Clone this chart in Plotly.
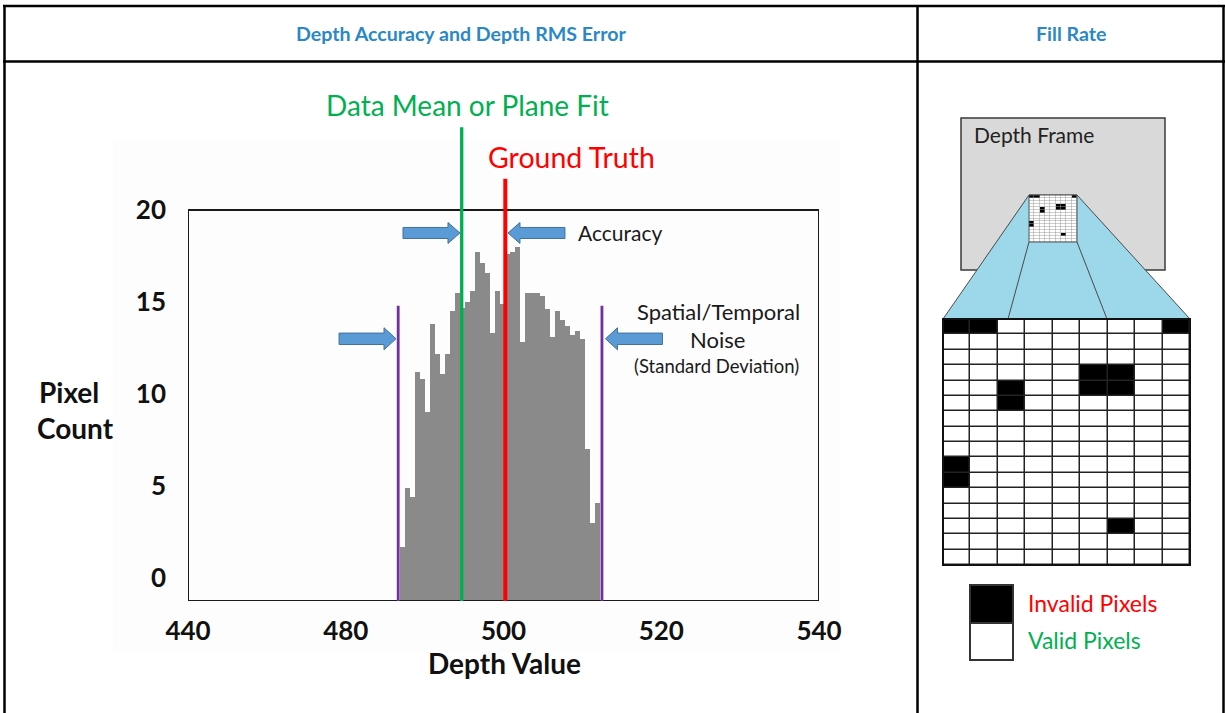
import plotly.graph_objects as go

W, H = 1225, 713
FONT = "Lato"

# ---------------- data ----------------
bin_centers = [487.20, 487.83, 488.47, 489.10, 489.74, 490.37, 491.00, 491.64, 492.27, 492.91,
               493.54, 494.17, 494.81, 495.44, 496.08, 496.71, 497.34, 497.98, 498.61, 499.25,
               499.88, 500.51, 501.15, 501.78, 502.42, 503.05, 503.68, 504.32, 504.95, 505.59,
               506.22, 506.85, 507.49, 508.12, 508.76, 509.39, 510.02, 510.66, 511.29, 511.93]
pixel_counts = [1.7, 4.9, 4.4, 11.2, 10.8, 9.0, 13.8, 12.2, 11.1, 12.2,
                14.5, 15.5, 14.7, 15.0, 15.6, 17.7, 17.1, 16.6, 13.3, 15.6,
                14.9, 17.6, 17.7, 18.0, 12.8, 15.5, 15.5, 15.5, 15.3, 14.6,
                13.1, 14.5, 14.0, 13.7, 13.2, 13.4, 13.0, 7.0, 3.0, 4.1]
bin_width = 0.634

x_tick_vals = [460, 480, 500, 520, 540]
x_tick_text = ["440", "480", "500", "520", "540"]
y_tick_vals = [0, 5, 10, 15, 20]

data_mean_x = 494.70      # green line
ground_truth_x = 500.23   # red line
noise_low_x = 486.65      # purple left
noise_high_x = 512.48     # purple right
data_mean_top = 24.5
ground_truth_top = 21.7
noise_top = 14.8
accuracy_arrow_y = 18.75
noise_arrow_y = 13.0

# fill-rate grid: 1 = invalid pixel (black), 0 = valid (white)
fill_grid = [
    [1, 1, 0, 0, 0, 0, 0, 0, 1],
    [0, 0, 0, 0, 0, 0, 0, 0, 0],
    [0, 0, 0, 0, 0, 0, 0, 0, 0],
    [0, 0, 0, 0, 0, 1, 1, 0, 0],
    [0, 0, 1, 0, 0, 1, 1, 0, 0],
    [0, 0, 1, 0, 0, 0, 0, 0, 0],
    [0, 0, 0, 0, 0, 0, 0, 0, 0],
    [0, 0, 0, 0, 0, 0, 0, 0, 0],
    [0, 0, 0, 0, 0, 0, 0, 0, 0],
    [1, 0, 0, 0, 0, 0, 0, 0, 0],
    [1, 0, 0, 0, 0, 0, 0, 0, 0],
    [0, 0, 0, 0, 0, 0, 0, 0, 0],
    [0, 0, 0, 0, 0, 0, 0, 0, 0],
    [0, 0, 0, 0, 0, 0, 1, 0, 0],
    [0, 0, 0, 0, 0, 0, 0, 0, 0],
    [0, 0, 0, 0, 0, 0, 0, 0, 0],
]

# ---------------- helpers ----------------
def PX(x):
    return x / W

def PY(y):
    return 1 - y / H

GREEN = "#00B050"
RED = "#FF0000"
PURPLE = "#7030A0"
BLUE_HDR = "#2A88C6"
ARROW_FILL = "#5B9BD5"
ARROW_LINE = "#41719C"

fig = go.Figure()

# histogram bars; plot bottom is at -1.25 (frame bottom)
y_bottom = -1.25
y_top = 26.52
fig.add_trace(go.Bar(
    x=bin_centers, y=[c - y_bottom for c in pixel_counts], base=y_bottom,
    width=bin_width, marker=dict(color="#8A8A8A", line=dict(width=0)),
    xaxis="x", yaxis="y", hoverinfo="skip", showlegend=False))

# fill-rate grid
fig.add_trace(go.Heatmap(
    z=fill_grid, colorscale=[[0, "white"], [1, "black"]], zmin=0, zmax=1,
    showscale=False, xgap=1.5, ygap=1.5, xaxis="x2", yaxis="y2", hoverinfo="skip"))
# miniature in the depth frame
fig.add_trace(go.Heatmap(
    z=fill_grid, colorscale=[[0, "white"], [1, "black"]], zmin=0, zmax=1,
    showscale=False, xgap=0.5, ygap=0.5, xaxis="x3", yaxis="y3", hoverinfo="skip"))

shapes = []

# faint background behind chart
shapes.append(dict(type="rect", xref="paper", yref="paper", x0=PX(113), x1=PX(840),
                   y0=PY(653), y1=PY(140), fillcolor="#FDFDFD", line=dict(width=0), layer="below"))

# table borders
tl = dict(color="black", width=2.5)
shapes += [
    dict(type="line", xref="paper", yref="paper", x0=PX(3), x1=PX(1225), y0=PY(6), y1=PY(6), line=tl),
    dict(type="line", xref="paper", yref="paper", x0=PX(3), x1=PX(1225), y0=PY(61.5), y1=PY(61.5), line=tl),
    dict(type="line", xref="paper", yref="paper", x0=PX(4.5), x1=PX(4.5), y0=PY(5), y1=PY(713), line=tl),
    dict(type="line", xref="paper", yref="paper", x0=PX(917.5), x1=PX(917.5), y0=PY(5), y1=PY(713), line=tl),
    dict(type="line", xref="paper", yref="paper", x0=PX(1223.5), x1=PX(1223.5), y0=PY(5), y1=PY(713), line=tl),
]

# chart frame
shapes.append(dict(type="rect", xref="x", yref="y", x0=460, x1=540, y0=y_bottom, y1=20,
                   line=dict(color="#1A1A1A", width=2), layer="above"))

# vertical lines
shapes.append(dict(type="line", xref="x", yref="y", x0=data_mean_x, x1=data_mean_x,
                   y0=y_bottom, y1=data_mean_top, line=dict(color=GREEN, width=3.3)))
shapes.append(dict(type="line", xref="x", yref="y", x0=ground_truth_x, x1=ground_truth_x,
                   y0=y_bottom, y1=ground_truth_top, line=dict(color=RED, width=4)))
for nx in (noise_low_x, noise_high_x):
    shapes.append(dict(type="line", xref="x", yref="y", x0=nx, x1=nx,
                       y0=y_bottom, y1=noise_top, line=dict(color=PURPLE, width=2.8)))

# block arrows (data units)
def arrow(tip_x, tip_y, d, length=7.22, head=1.52, body_half=0.30, head_half=0.57):
    pts = [(tip_x - d * length, tip_y - body_half), (tip_x - d * head, tip_y - body_half),
           (tip_x - d * head, tip_y - head_half), (tip_x, tip_y),
           (tip_x - d * head, tip_y + head_half), (tip_x - d * head, tip_y + body_half),
           (tip_x - d * length, tip_y + body_half)]
    path = "M " + " L ".join(f"{x:.3f},{y:.3f}" for x, y in pts) + " Z"
    return dict(type="path", xref="x", yref="y", path=path, fillcolor=ARROW_FILL,
                line=dict(color=ARROW_LINE, width=1))

shapes.append(arrow(data_mean_x - 0.22, accuracy_arrow_y, +1))
shapes.append(arrow(ground_truth_x + 0.34, accuracy_arrow_y, -1))
shapes.append(arrow(noise_low_x - 0.28, noise_arrow_y, +1, body_half=0.31, head_half=0.6))
shapes.append(arrow(noise_high_x + 0.45, noise_arrow_y, -1, body_half=0.31, head_half=0.6))

# depth frame
shapes.append(dict(type="rect", xref="paper", yref="paper", x0=PX(961), x1=PX(1165),
                   y0=PY(270), y1=PY(118), fillcolor="#D9D9D9",
                   line=dict(color="#3A3A3A", width=1.5), layer="below"))
# fan
fan = [(1029, 195), (1077, 195), (1190, 319), (943, 319)]
shapes.append(dict(type="path", xref="paper", yref="paper",
                   path="M " + " L ".join(f"{PX(x):.5f},{PY(y):.5f}" for x, y in fan) + " Z",
                   fillcolor="#9DD8EA", line=dict(color="#4A4A4A", width=1), layer="below"))
for (xa, ya, xb, yb) in [(1029, 242, 1008, 319), (1077, 242, 1107, 319)]:
    shapes.append(dict(type="line", xref="paper", yref="paper", x0=PX(xa), y0=PY(ya),
                       x1=PX(xb), y1=PY(yb), line=dict(color="#4A4A4A", width=1), layer="below"))
# grid backings and outlines
shapes.append(dict(type="rect", xref="x2 domain", yref="y2 domain", x0=0, x1=1, y0=0, y1=1,
                   fillcolor="#222222", line=dict(width=0), layer="below"))
shapes.append(dict(type="rect", xref="x2 domain", yref="y2 domain", x0=0, x1=1, y0=0, y1=1,
                   line=dict(color="#111111", width=2), layer="above"))
shapes.append(dict(type="rect", xref="x3 domain", yref="y3 domain", x0=0, x1=1, y0=0, y1=1,
                   fillcolor="#9A9A9A", line=dict(width=0), layer="below"))
shapes.append(dict(type="rect", xref="x3 domain", yref="y3 domain", x0=0, x1=1, y0=0, y1=1,
                   line=dict(color="#555555", width=1), layer="above"))

# legend boxes
shapes.append(dict(type="rect", xref="paper", yref="paper", x0=PX(970), x1=PX(1013),
                   y0=PY(623), y1=PY(585), fillcolor="black", line=dict(color="#333", width=2)))
shapes.append(dict(type="rect", xref="paper", yref="paper", x0=PX(970), x1=PX(1013),
                   y0=PY(660), y1=PY(623), fillcolor="white", line=dict(color="#333", width=2)))

# ---------------- annotations ----------------
def txt(text, x, y, size, color="#1A1A1A", bold=False, xanchor="center"):
    return dict(text=text, x=PX(x), y=PY(y), xref="paper", yref="paper", showarrow=False,
                xanchor=xanchor, yanchor="middle",
                font=dict(family=FONT, size=size, color=color, weight="bold" if bold else "normal"))

annotations = [
    txt("Depth Accuracy and Depth RMS Error", 461, 33, 19.6, BLUE_HDR, True),
    txt("Fill Rate", 1071, 33, 19.6, BLUE_HDR, True),
    txt("Data Mean or Plane Fit", 467, 105, 28, GREEN),
    txt("Ground Truth", 571, 157, 28.5, RED),
    txt("Accuracy", 576, 232, 21, xanchor="left"),
    txt("Spatial/Temporal", 718, 311, 22),
    txt("Noise", 717, 339, 22),
    txt("(Standard Deviation)", 716, 366, 18.5),
    txt("Pixel", 69, 392, 28, "#111", True),
    txt("Count", 75, 428, 28, "#111", True),
    txt("Depth Value", 504, 663, 28, "#111", True),
    txt("Depth Frame", 972, 135, 21, "#222", xanchor="left"),
    txt("Invalid Pixels", 1026, 603, 23, RED, xanchor="left"),
    txt("Valid Pixels", 1026, 640, 23, GREEN, xanchor="left"),
]

tickfont = dict(family=FONT, size=26, color="#111", weight="bold")
hidden = dict(visible=False, automargin=False, fixedrange=True)

fig.update_layout(
    width=W, height=H, margin=dict(l=0, r=0, t=0, b=0, autoexpand=False),
    paper_bgcolor="white", plot_bgcolor="rgba(0,0,0,0)",
    bargap=0, showlegend=False,
    shapes=shapes, annotations=annotations,
    xaxis=dict(domain=[PX(188), PX(819)], range=[460, 540], tickvals=x_tick_vals,
               ticktext=x_tick_text, tickfont=tickfont, showgrid=False, zeroline=False,
               showline=False, ticks="", ticklabelstandoff=12, anchor="y",
               fixedrange=True, automargin=False),
    yaxis=dict(domain=[PY(601), PY(90)], range=[y_bottom, y_top], tickvals=y_tick_vals,
               tickfont=tickfont, showgrid=False, zeroline=False, showline=False, ticks="",
               ticklabelstandoff=21, anchor="x", fixedrange=True, automargin=False),
    xaxis2=dict(domain=[PX(943), PX(1190)], range=[-0.5, 8.5], anchor="y2", **hidden),
    yaxis2=dict(domain=[PY(565), PY(319)], range=[15.5, -0.5], anchor="x2", **hidden),
    xaxis3=dict(domain=[PX(1029), PX(1077)], range=[-0.5, 8.5], anchor="y3", **hidden),
    yaxis3=dict(domain=[PY(242), PY(195)], range=[15.5, -0.5], anchor="x3", **hidden),
)

fig.write_html("out.html", config={"displayModeBar": False},
               post_script="document.body.style.margin='0';document.body.style.overflow='hidden';")
